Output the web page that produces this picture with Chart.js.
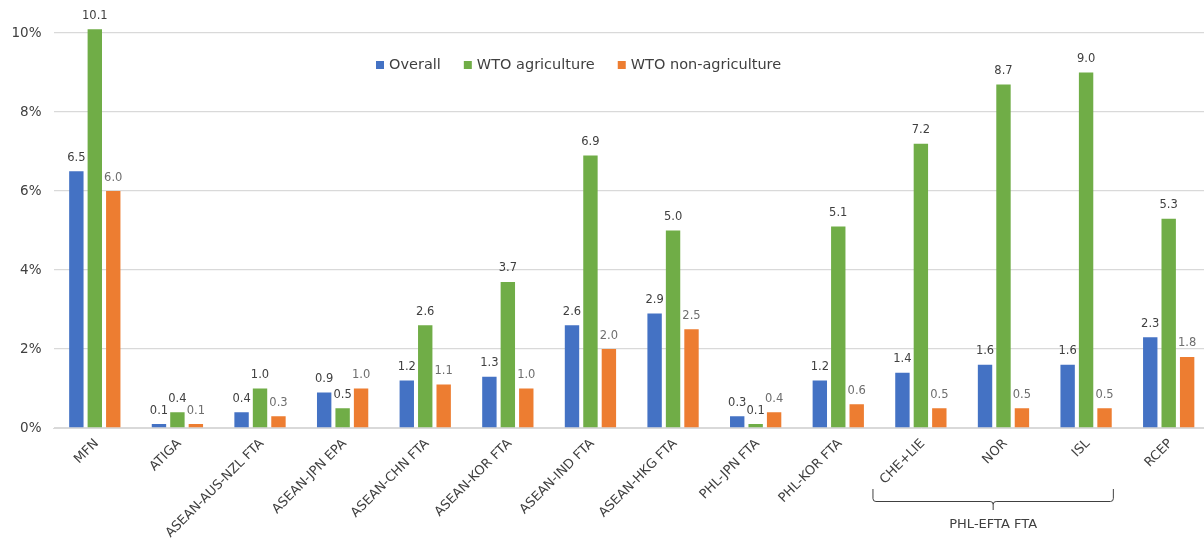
<!DOCTYPE html>
<html>
<head>
<meta charset="utf-8">
<script src="https://cdn.jsdelivr.net/npm/chart.js@4"></script>
<style>
  html, body { margin: 0; padding: 0; background: #fff; overflow: hidden; }
  #wrap { width: 1212px; height: 539px; position: relative; }
</style>
</head>
<body>
<div id="wrap"><canvas id="tariffChart"></canvas></div>
<script>
const categories = ['MFN', 'ATIGA', 'ASEAN-AUS-NZL FTA', 'ASEAN-JPN EPA', 'ASEAN-CHN FTA', 'ASEAN-KOR FTA',
  'ASEAN-IND FTA', 'ASEAN-HKG FTA', 'PHL-JPN FTA', 'PHL-KOR FTA', 'CHE+LIE', 'NOR', 'ISL', 'RCEP'];
const overall = [6.5, 0.1, 0.4, 0.9, 1.2, 1.3, 2.6, 2.9, 0.3, 1.2, 1.4, 1.6, 1.6, 2.3];
const wtoAgriculture = [10.1, 0.4, 1.0, 0.5, 2.6, 3.7, 6.9, 5.0, 0.1, 5.1, 7.2, 8.7, 9.0, 5.3];
const wtoNonAgriculture = [6.0, 0.1, 0.3, 1.0, 1.1, 1.0, 2.0, 2.5, 0.4, 0.6, 0.5, 0.5, 0.5, 1.8];
const yTickValues = [0, 2, 4, 6, 8, 10];
const groupLabel = 'PHL-EFTA FTA';
const groupFirst = 10; // CHE+LIE
const groupLast = 12;  // ISL

Chart.defaults.font.family = '"DejaVu Sans", Verdana, sans-serif';

// value labels above each bar
const barValueLabels = {
  id: 'barValueLabels',
  afterDatasetsDraw(chart) {
    const { ctx } = chart;
    ctx.save();
    ctx.font = '11.5px "DejaVu Sans"';
    ctx.textAlign = 'center';
    ctx.textBaseline = 'alphabetic';
    chart.data.datasets.forEach((ds, i) => {
      ctx.fillStyle = i === 2 ? '#6e6e6e' : '#404040';
      chart.getDatasetMeta(i).data.forEach((bar, j) => {
        ctx.fillText(ds.data[j].toFixed(1), bar.x, bar.y - 10.5);
      });
    });
    ctx.restore();
  }
};

// legend sits inside the plot, a bit left of centre
const insideLegend = {
  id: 'insideLegend',
  afterDraw(chart) {
    const { ctx } = chart;
    ctx.save();
    ctx.font = '14.5px "DejaVu Sans"';
    ctx.textBaseline = 'middle';
    ctx.textAlign = 'left';
    let x = 376;
    const y = 65;
    chart.data.datasets.forEach((ds) => {
      ctx.fillStyle = ds.backgroundColor;
      ctx.fillRect(x, y - 4, 8, 8);
      ctx.fillStyle = '#404040';
      ctx.fillText(ds.label, x + 13, y);
      x += 13 + ctx.measureText(ds.label).width + 23;
    });
    ctx.restore();
  }
};

// brace under the three EFTA members
const groupBrace = {
  id: 'groupBrace',
  afterDraw(chart) {
    const { ctx } = chart;
    const xs = chart.scales.x;
    const step = xs.getPixelForValue(1) - xs.getPixelForValue(0);
    const left = xs.getPixelForValue(groupFirst) - step * 0.58;
    const right = xs.getPixelForValue(groupLast) + step * 0.33;
    const mid = (left + right) / 2;
    const top = 489, line = 501.5, tip = 510;
    ctx.save();
    ctx.strokeStyle = '#404040';
    ctx.lineWidth = 1;
    ctx.beginPath();
    ctx.moveTo(left, top);
    ctx.lineTo(left, line - 3);
    ctx.quadraticCurveTo(left, line, left + 3, line);
    ctx.lineTo(mid - 3, line);
    ctx.quadraticCurveTo(mid, line, mid, line + 3);
    ctx.lineTo(mid, tip);
    ctx.moveTo(mid, line + 3);
    ctx.quadraticCurveTo(mid, line, mid + 3, line);
    ctx.lineTo(right - 3, line);
    ctx.quadraticCurveTo(right, line, right, line - 3);
    ctx.lineTo(right, top);
    ctx.stroke();
    ctx.fillStyle = '#404040';
    ctx.font = '13px "DejaVu Sans"';
    ctx.textAlign = 'center';
    ctx.textBaseline = 'middle';
    ctx.fillText(groupLabel, mid, 525);
    ctx.restore();
  }
};

new Chart(document.getElementById('tariffChart'), {
  type: 'bar',
  data: {
    labels: categories,
    datasets: [
      { label: 'Overall', data: overall, backgroundColor: '#4472C4' },
      { label: 'WTO agriculture', data: wtoAgriculture, backgroundColor: '#70AD47' },
      { label: 'WTO non-agriculture', data: wtoNonAgriculture, backgroundColor: '#ED7D31' },
    ],
  },
  options: {
    responsive: true,
    maintainAspectRatio: false,
    animation: false,
    datasets: { bar: { categoryPercentage: 0.67, barPercentage: 0.78 } },
    layout: { padding: { top: 13.5, right: 2, left: 0, bottom: 0 } },
    plugins: { legend: { display: false }, tooltip: { enabled: false } },
    scales: {
      x: {
        grid: { display: false },
        border: { color: '#d9d9d9' },
        ticks: {
          autoSkip: false,
          maxRotation: 45,
          minRotation: 45,
          color: '#404040',
          font: { size: 13 },
          padding: 0,
          labelOffset: 2,
        },
        afterFit: (scale) => { scale.height = 111; },
      },
      y: {
        min: 0,
        max: 10.33,
        ticks: {
          stepSize: 2,
          color: '#404040',
          font: { size: 13.5 },
          padding: 12,
          callback: (v) => v + '%',
        },
        afterBuildTicks: (scale) => {
          scale.ticks = yTickValues.map((v) => ({ value: v }));
        },
        grid: { color: '#d9d9d9', lineWidth: 1.3, drawTicks: false },
        border: { display: false },
        afterFit: (scale) => { scale.width = 53.5; },
      },
    },
  },
  plugins: [barValueLabels, insideLegend, groupBrace],
});
</script>
</body>
</html>
